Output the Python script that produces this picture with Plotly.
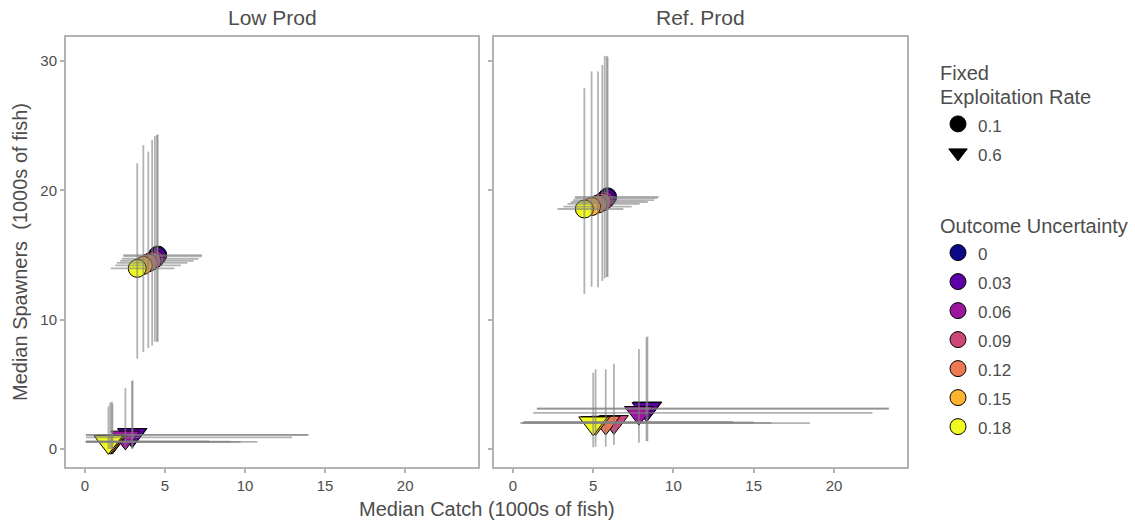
import plotly.graph_objects as go

# ---------------- data ----------------
uncertainty = [0, 0.03, 0.06, 0.09, 0.12, 0.15, 0.18]
unc_colors = ["#0D0887", "#5D01A6", "#9C179E", "#CC4678", "#ED7953", "#FDB32F", "#F0F921"]
panels = ["Low Prod", "Ref. Prod"]
exp_rates = ["0.1", "0.6"]

# Low Prod, exploitation 0.1 (circles)
low_01_catch = [4.55, 4.50, 4.37, 4.20, 3.96, 3.65, 3.27]
low_01_catch_lo = [2.40, 2.40, 2.30, 2.20, 2.00, 1.90, 1.61]
low_01_catch_hi = [7.31, 7.30, 7.10, 6.80, 6.40, 6.00, 5.59]
low_01_spawn = [15.00, 14.90, 14.70, 14.55, 14.40, 14.20, 13.97]
low_01_spawn_lo = [8.30, 8.30, 8.30, 8.00, 7.80, 7.50, 7.00]
low_01_spawn_hi = [24.30, 24.30, 24.20, 23.90, 23.00, 23.50, 22.10]

# Low Prod, exploitation 0.6 (triangles)
low_06_catch = [2.98, 2.94, 2.53, 1.72, 1.68, 1.58, 1.47]
low_06_catch_lo = [0.06, 0.06, 0.06, 0.06, 0.06, 0.06, 0.06]
low_06_catch_hi = [13.98, 13.90, 12.94, 7.76, 9.10, 9.73, 10.77]
low_06_spawn = [1.10, 1.09, 0.90, 0.58, 0.57, 0.56, 0.55]
low_06_spawn_lo = [0.02, 0.02, 0.02, 0.01, 0.01, 0.01, 0.01]
low_06_spawn_hi = [5.30, 5.26, 4.70, 3.50, 3.66, 3.60, 3.30]

# Ref. Prod, exploitation 0.1 (circles)
ref_01_catch = [5.90, 5.85, 5.72, 5.57, 5.30, 4.90, 4.45]
ref_01_catch_lo = [3.87, 3.85, 3.75, 3.60, 3.40, 3.15, 2.78]
ref_01_catch_hi = [9.09, 9.00, 8.80, 8.40, 7.90, 7.40, 6.88]
ref_01_spawn = [19.50, 19.40, 19.25, 19.10, 18.95, 18.75, 18.56]
ref_01_spawn_lo = [13.30, 13.30, 13.20, 13.00, 12.50, 12.55, 12.00]
ref_01_spawn_hi = [30.30, 30.40, 30.40, 29.70, 29.20, 29.20, 27.90]

# Ref. Prod, exploitation 0.6 (triangles)
ref_06_catch = [8.38, 8.32, 7.85, 6.29, 5.78, 5.15, 5.00]
ref_06_catch_lo = [1.49, 1.49, 1.26, 0.70, 0.60, 0.55, 0.45]
ref_06_catch_hi = [23.43, 23.40, 22.40, 13.70, 15.00, 16.10, 18.50]
ref_06_spawn = [3.15, 3.10, 2.80, 2.10, 2.05, 2.02, 2.00]
ref_06_spawn_lo = [0.60, 0.62, 0.49, 0.31, 0.18, 0.18, 0.13]
ref_06_spawn_hi = [8.70, 8.64, 7.73, 6.60, 6.16, 6.16, 5.90]

x_ticks = [0, 5, 10, 15, 20]
y_ticks = [0, 10, 20, 30]

# ---------------- figure ----------------
W, H = 1135, 522
TXT = "#4d4d4d"
GRID = "#b3b3b3"
FONT = "Liberation Sans, Arial, sans-serif"
ERR = "rgba(127,127,127,0.6)"

fig = go.Figure()

series = [
    ("x", "y", low_01_catch, low_01_catch_lo, low_01_catch_hi, low_01_spawn, low_01_spawn_lo, low_01_spawn_hi, "circle", 18),
    ("x", "y", low_06_catch, low_06_catch_lo, low_06_catch_hi, low_06_spawn, low_06_spawn_lo, low_06_spawn_hi, "triangle-down", 25),
    ("x2", "y2", ref_01_catch, ref_01_catch_lo, ref_01_catch_hi, ref_01_spawn, ref_01_spawn_lo, ref_01_spawn_hi, "circle", 18),
    ("x2", "y2", ref_06_catch, ref_06_catch_lo, ref_06_catch_hi, ref_06_spawn, ref_06_spawn_lo, ref_06_spawn_hi, "triangle-down", 25),
]

# points
for xa, ya, cx, clo, chi, sy, slo, shi, sym, sz in series:
    fig.add_trace(go.Scatter(
        x=cx, y=sy, xaxis=xa, yaxis=ya, mode="markers", showlegend=False,
        marker=dict(symbol=sym, size=sz, color=unc_colors, line=dict(color="black", width=1)),
        hoverinfo="skip"))

# error bars (drawn on top, semi-transparent)
for xa, ya, cx, clo, chi, sy, slo, shi, sym, sz in series:
    fig.add_trace(go.Scatter(
        x=cx, y=sy, xaxis=xa, yaxis=ya, mode="markers", showlegend=False,
        marker=dict(size=1, color="rgba(0,0,0,0)"),
        error_x=dict(type="data", symmetric=False,
                     array=[h - c for c, h in zip(cx, chi)],
                     arrayminus=[c - l for c, l in zip(cx, clo)],
                     color=ERR, thickness=1.8, width=0),
        error_y=dict(type="data", symmetric=False,
                     array=[h - s for s, h in zip(sy, shi)],
                     arrayminus=[s - l for s, l in zip(sy, slo)],
                     color=ERR, thickness=1.8, width=0),
        hoverinfo="skip"))

def lbl(t, px=17):
    return '<span style="font-size:%dpx">%s</span>' % (px, t)

# legend 1: exploitation rate (shape)
for rate, sym in zip(exp_rates, ["circle", "triangle-down"]):
    fig.add_trace(go.Scatter(
        x=[None], y=[None], mode="markers", name=lbl(rate), legend="legend",
        marker=dict(symbol=sym, size=18, color="black", line=dict(color="black", width=1))))

# legend 2: outcome uncertainty (colour)
for u, col in zip(uncertainty, unc_colors):
    fig.add_trace(go.Scatter(
        x=[None], y=[None], mode="markers", name=lbl(str(u)), legend="legend2",
        marker=dict(symbol="circle", size=18, color=col, line=dict(color="black", width=1))))

xl, xr = 66, 478
xl2, xr2 = 494, 907
yt, yb = 37, 467

axis_common = dict(showgrid=False, zeroline=False, showline=True, mirror=True,
                   linecolor=GRID, linewidth=2, ticks="outside", ticklen=4,
                   tickwidth=1.5, tickcolor=GRID,
                   tickfont=dict(family=FONT, size=15, color=TXT))

fig.update_layout(
    width=W, height=H, margin=dict(l=0, r=0, t=0, b=0, autoexpand=False),
    paper_bgcolor="white", plot_bgcolor="white",
    font=dict(family=FONT, color=TXT),
    xaxis=dict(domain=[xl / W, xr / W], range=[-1.18, 24.55], tickvals=x_ticks, anchor="y", **axis_common),
    xaxis2=dict(domain=[xl2 / W, xr2 / W], range=[-1.18, 24.55], tickvals=x_ticks, anchor="y2", **axis_common),
    yaxis=dict(domain=[1 - yb / H, 1 - yt / H], range=[-1.39, 31.86], tickvals=y_ticks, anchor="x", **axis_common),
    yaxis2=dict(domain=[1 - yb / H, 1 - yt / H], range=[-1.39, 31.86], tickvals=y_ticks, anchor="x2",
                showticklabels=False, **{k: v for k, v in axis_common.items() if k != "tickfont"}),
    legend=dict(x=938 / W, xanchor="left", y=1 - 55 / H, yanchor="top",
                title=dict(text=lbl("Fixed<br>Exploitation Rate", 20), font=dict(family=FONT, size=19, color=TXT)),
                font=dict(family=FONT, size=20, color=TXT), bgcolor="rgba(0,0,0,0)", itemsizing="trace"),
    legend2=dict(x=938 / W, xanchor="left", y=1 - 198 / H, yanchor="top",
                 title=dict(text=lbl("Outcome Uncertainty", 20), font=dict(family=FONT, size=27, color=TXT)),
                 font=dict(family=FONT, size=20, color=TXT), bgcolor="rgba(0,0,0,0)", itemsizing="trace"),
    annotations=[
        dict(text=panels[0], x=(xl + xr) / 2 / W, y=1 - 18 / H, xref="paper", yref="paper",
             showarrow=False, font=dict(family=FONT, size=21, color=TXT), xanchor="center", yanchor="middle"),
        dict(text=panels[1], x=(xl2 + xr2) / 2 / W, y=1 - 18 / H, xref="paper", yref="paper",
             showarrow=False, font=dict(family=FONT, size=21, color=TXT), xanchor="center", yanchor="middle"),
        dict(text="Median Catch (1000s of fish)", x=(xl + xr2) / 2 / W, y=1 - 509 / H, xref="paper", yref="paper",
             showarrow=False, font=dict(family=FONT, size=20, color=TXT), xanchor="center", yanchor="middle"),
        dict(text="Median Spawners&nbsp; (1000s of fish)", x=20 / W, y=1 - 252 / H, xref="paper", yref="paper",
             showarrow=False, textangle=-90, font=dict(family=FONT, size=20, color=TXT),
             xanchor="center", yanchor="middle"),
    ],
)

fig.write_html("out.html", config={"displayModeBar": False},
               post_script="document.body.style.margin='0';document.body.style.overflow='hidden';")
